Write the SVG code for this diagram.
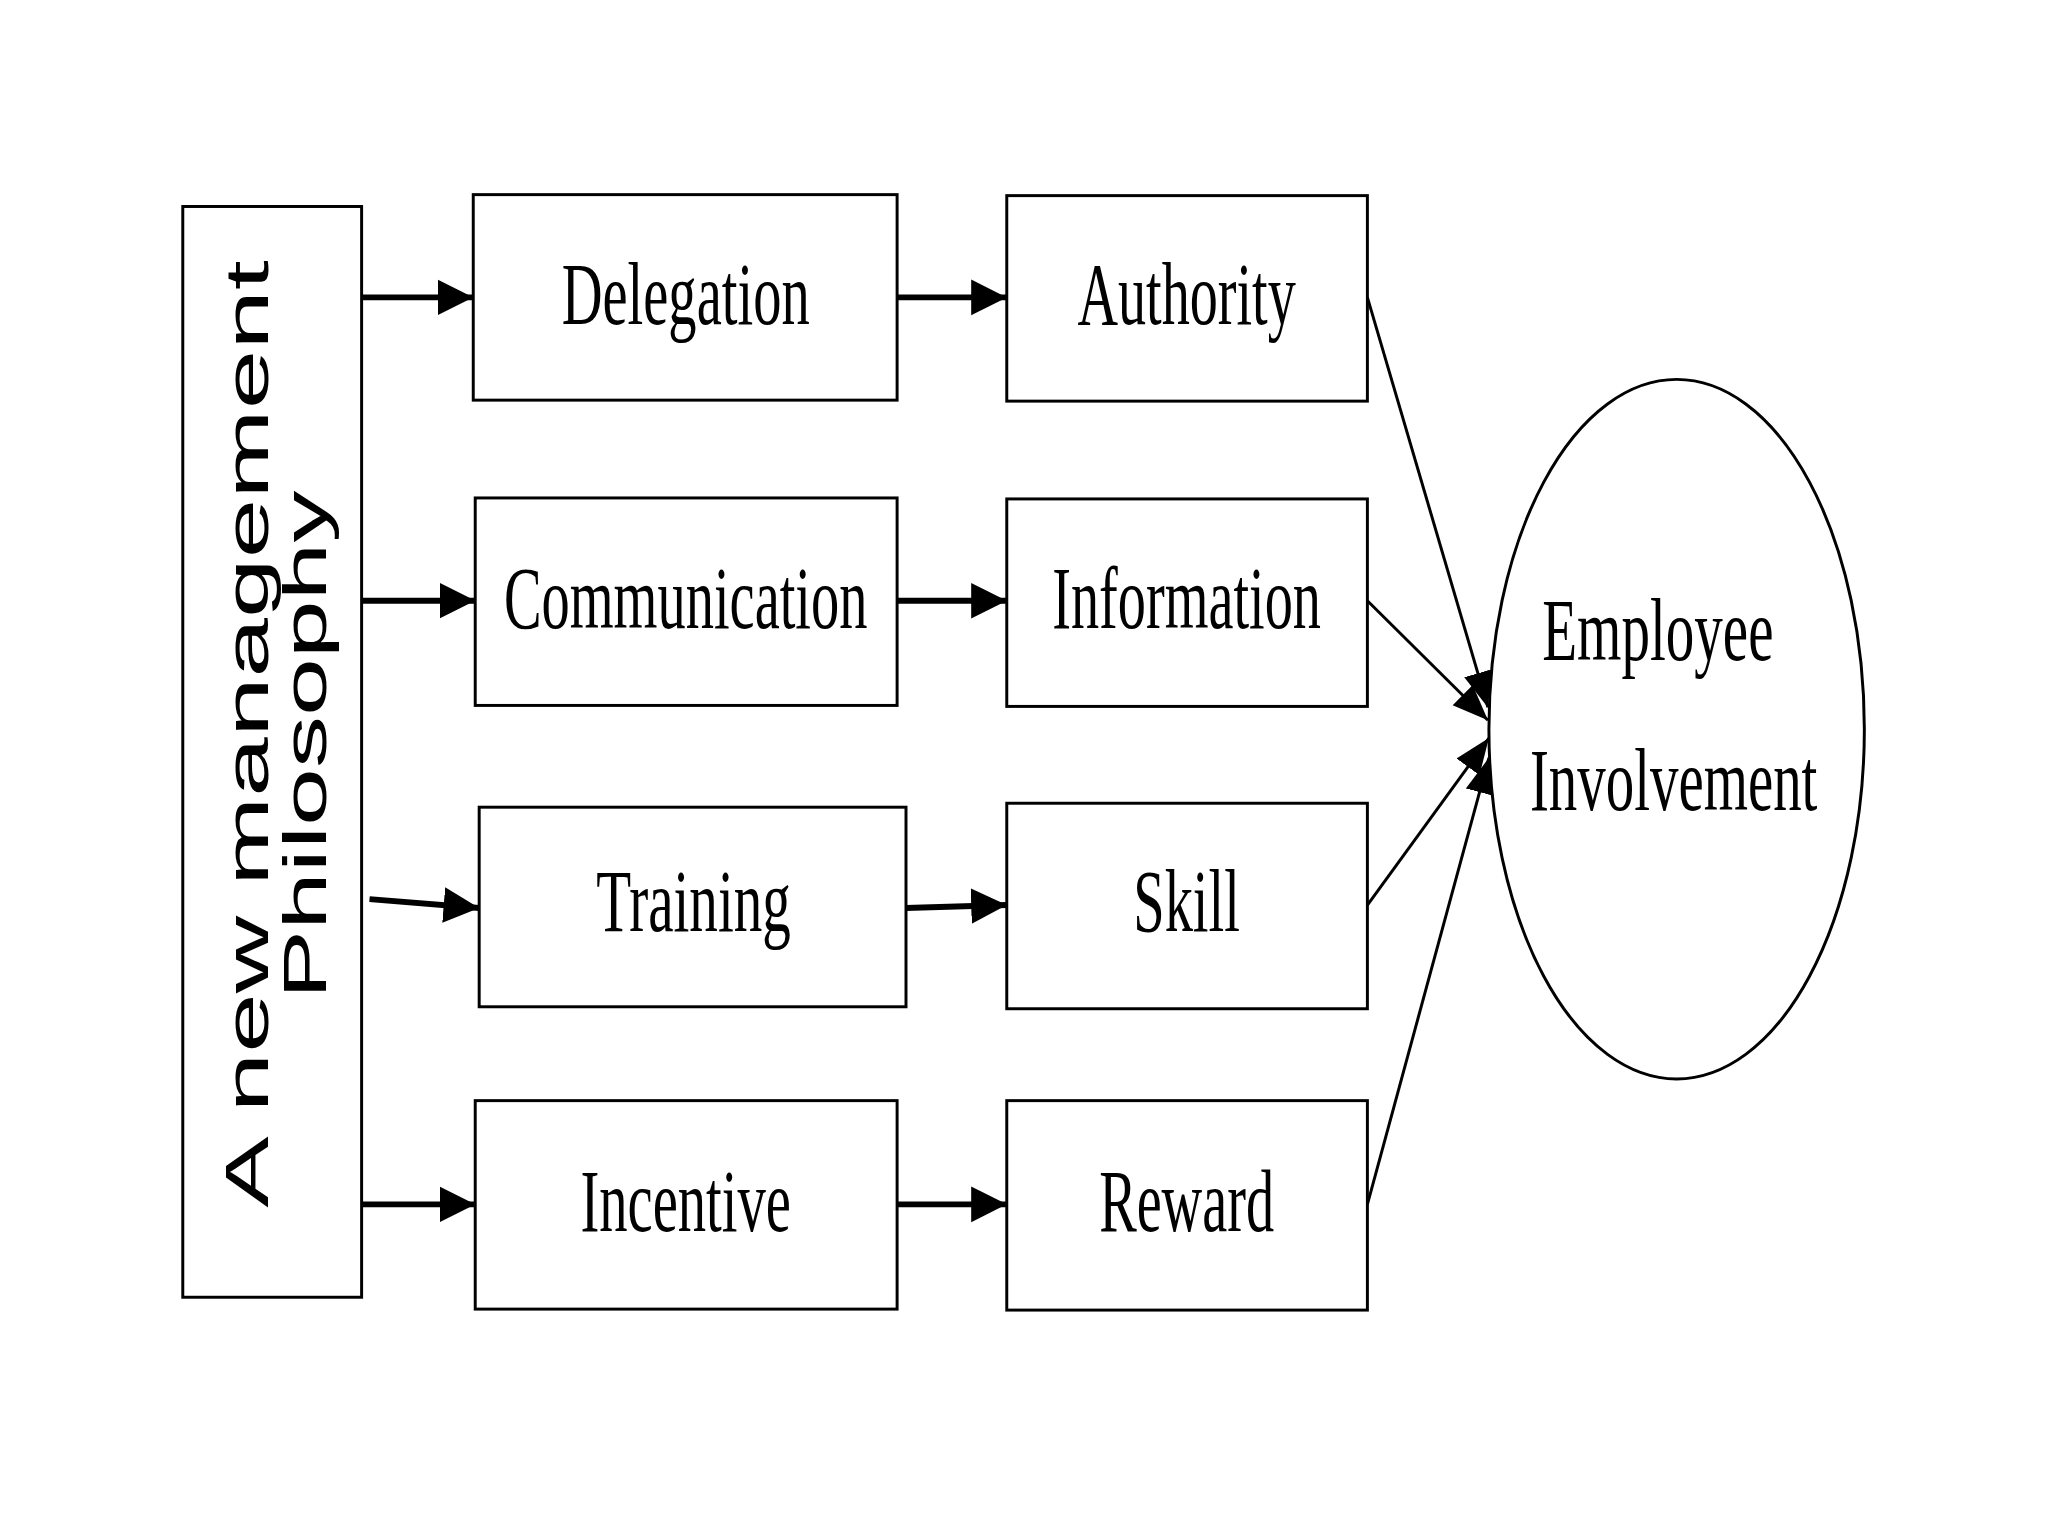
<svg xmlns="http://www.w3.org/2000/svg" width="2048" height="1536" viewBox="0 0 2048 1536">
<style>
.b{fill:#fff;stroke:#000;stroke-width:3}
.t{font-family:"Liberation Serif",serif;font-size:90px;text-anchor:middle}
.s{font-family:"Liberation Sans",sans-serif;font-size:62px;text-anchor:middle}
.c{stroke:#000;stroke-width:6;fill:none}
.d{stroke:#000;stroke-width:3;fill:none}
</style>
<defs>
<marker id="a" viewBox="0 0 10 10" refX="10" refY="5" markerWidth="6" markerHeight="8" markerUnits="strokeWidth" orient="auto"><path d="M0,0 L10,5 L0,10 z"/></marker>
<marker id="a2" viewBox="0 0 10 10" refX="10" refY="5" markerWidth="12" markerHeight="12" markerUnits="strokeWidth" orient="auto"><path d="M0,1 L10,5 L0,9 z"/></marker>
</defs>
<rect width="2048" height="1536" fill="#fff"/>
<g transform="scale(0.988)">
<g id="philosophy"><rect class="b" x="185" y="209" width="181" height="1104"/>
<text class="s" transform="translate(271,743) rotate(-90)" textLength="959" lengthAdjust="spacingAndGlyphs">A new management</text>
<text class="s" transform="translate(330,754) rotate(-90)" textLength="515" lengthAdjust="spacingAndGlyphs">Philosophy</text></g>
<g id="delegation"><rect class="b" x="479" y="197" width="429" height="208"/><text class="t" x="694" y="328" textLength="251" lengthAdjust="spacingAndGlyphs">Delegation</text></g>
<g id="authority"><rect class="b" x="1019" y="198" width="365" height="208"/><text class="t" x="1201" y="328" textLength="221" lengthAdjust="spacingAndGlyphs">Authority</text></g>
<g id="communication"><rect class="b" x="481" y="504" width="427" height="210"/><text class="t" x="694" y="636" textLength="368" lengthAdjust="spacingAndGlyphs">Communication</text></g>
<g id="information"><rect class="b" x="1019" y="505" width="365" height="210"/><text class="t" x="1201" y="636" textLength="272" lengthAdjust="spacingAndGlyphs">Information</text></g>
<g id="training"><rect class="b" x="485" y="817" width="432" height="202"/><text class="t" x="702" y="942" textLength="197" lengthAdjust="spacingAndGlyphs">Training</text></g>
<g id="skill"><rect class="b" x="1019" y="813" width="365" height="208"/><text class="t" x="1201" y="942" textLength="108" lengthAdjust="spacingAndGlyphs">Skill</text></g>
<g id="incentive"><rect class="b" x="481" y="1114" width="427" height="211"/><text class="t" x="694" y="1246" textLength="213" lengthAdjust="spacingAndGlyphs">Incentive</text></g>
<g id="reward"><rect class="b" x="1019" y="1114" width="365" height="212"/><text class="t" x="1201" y="1246" textLength="177" lengthAdjust="spacingAndGlyphs">Reward</text></g>
<g id="employee"><ellipse class="b" cx="1697" cy="738" rx="190" ry="354"/>
<text class="t" x="1678" y="668" textLength="234" lengthAdjust="spacingAndGlyphs">Employee</text>
<text class="t" x="1694" y="820" textLength="291" lengthAdjust="spacingAndGlyphs">Involvement</text></g>
<g id="connectors">
<line class="c" x1="366" y1="301" x2="479" y2="301" marker-end="url(#a)"/>
<line class="c" x1="366" y1="608" x2="481" y2="608" marker-end="url(#a)"/>
<line class="c" x1="374" y1="910" x2="485" y2="919" marker-end="url(#a)"/>
<line class="c" x1="366" y1="1219" x2="481" y2="1219" marker-end="url(#a)"/>
<line class="c" x1="908" y1="301" x2="1019" y2="301" marker-end="url(#a)"/>
<line class="c" x1="908" y1="608" x2="1019" y2="608" marker-end="url(#a)"/>
<line class="c" x1="917" y1="919" x2="1019" y2="916" marker-end="url(#a)"/>
<line class="c" x1="908" y1="1219" x2="1019" y2="1219" marker-end="url(#a)"/>
<line class="d" x1="1384" y1="301" x2="1506" y2="716" marker-end="url(#a2)"/>
<line class="d" x1="1384" y1="608" x2="1506" y2="729" marker-end="url(#a2)"/>
<line class="d" x1="1384" y1="916" x2="1507" y2="747" marker-end="url(#a2)"/>
<line class="d" x1="1384" y1="1219" x2="1507" y2="767" marker-end="url(#a2)"/>
</g>
</g>
</svg>
